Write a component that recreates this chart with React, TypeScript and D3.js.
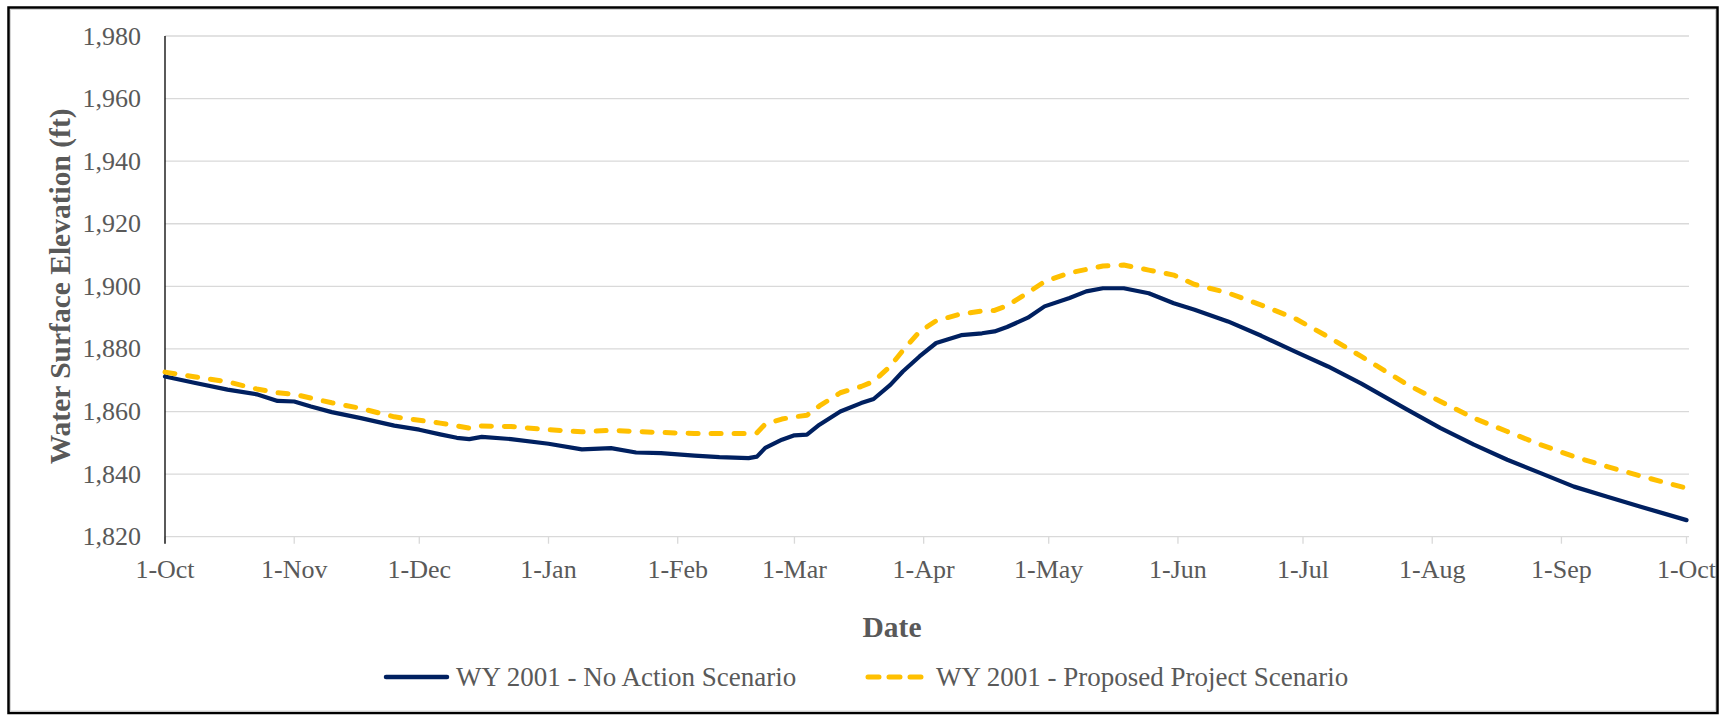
import React from "react";
import * as d3 from "d3";

const dates = [
  "2000-10-01","2000-10-08","2000-10-16","2000-10-23","2000-10-28","2000-11-01","2000-11-05","2000-11-10",
  "2000-11-17","2000-11-25","2000-12-01","2000-12-06","2000-12-10","2000-12-13","2000-12-16","2000-12-23",
  "2001-01-01","2001-01-09","2001-01-16","2001-01-22","2001-01-28","2001-02-05","2001-02-11","2001-02-18",
  "2001-02-20","2001-02-22","2001-02-26","2001-03-01","2001-03-04","2001-03-07","2001-03-12","2001-03-17",
  "2001-03-20","2001-03-24","2001-03-27","2001-03-31","2001-04-04","2001-04-10","2001-04-15","2001-04-18",
  "2001-04-21","2001-04-26","2001-04-30","2001-05-06","2001-05-10","2001-05-14","2001-05-19","2001-05-25",
  "2001-05-31","2001-06-05","2001-06-13","2001-06-21","2001-06-29","2001-07-07","2001-07-15","2001-07-26",
  "2001-08-03","2001-08-11","2001-08-19","2001-08-27","2001-09-04","2001-09-12","2001-09-20","2001-10-01",
];

const noAction = [
  1871.2,1869.2,1867.0,1865.5,1863.4,1863.2,1861.6,1859.8,
  1857.9,1855.5,1854.2,1852.7,1851.6,1851.2,1851.9,1851.2,
  1849.7,1847.9,1848.3,1846.9,1846.7,1845.9,1845.4,1845.1,
  1845.6,1848.4,1851.0,1852.4,1852.6,1855.8,1860.0,1862.7,
  1864.0,1868.5,1872.8,1877.6,1881.9,1884.4,1885.0,1885.6,
  1887.0,1890.0,1893.6,1896.3,1898.4,1899.4,1899.4,1897.8,
  1894.6,1892.5,1888.8,1884.2,1879.2,1874.4,1868.9,1860.6,
  1854.7,1849.4,1844.6,1840.3,1836.0,1832.8,1829.6,1825.3,
];

const proposed = [
  1872.6,1871.1,1869.5,1867.2,1866.0,1865.5,1864.3,1862.8,
  1861.0,1858.3,1857.2,1856.3,1855.4,1854.7,1855.4,1855.2,
  1854.2,1853.5,1854.0,1853.6,1853.3,1853.0,1853.0,1853.0,
  1853.2,1856.0,1857.6,1858.3,1858.8,1861.8,1866.0,1868.0,
  1869.6,1874.5,1879.5,1885.5,1889.0,1891.2,1892.1,1892.3,
  1893.8,1898.0,1901.5,1904.3,1905.4,1906.5,1906.8,1905.2,
  1903.6,1900.6,1897.9,1894.0,1889.8,1883.9,1877.6,1868.6,
  1863.2,1857.9,1853.6,1849.4,1845.6,1842.4,1839.4,1835.5,
];

const yTicks = [1820, 1840, 1860, 1880, 1900, 1920, 1940, 1960, 1980];
const seriesNames = ["WY 2001 - No Action Scenario", "WY 2001 - Proposed Project Scenario"];
const xTitle = "Date";
const yTitle = "Water Surface Elevation (ft)";

const W = 1728;
const H = 715;
const FONT = "'Times New Roman', 'Liberation Serif', serif";
const TEXT = "#595959";
const NAVY = "#002060";
const GOLD = "#FFC000";

export default function App() {
  const parse = d3.timeParse("%Y-%m-%d");
  const parsed = dates.map((d) => parse(d) as Date);
  const start = parsed[0];
  const end = parsed[parsed.length - 1];

  const x = d3.scaleTime().domain([start, end]).range([165, 1686.5]);
  const y = d3.scaleLinear().domain([1820, 1980]).range([536.7, 36]);

  const xTicks = d3.timeMonth.range(start, d3.timeDay.offset(end, 1));
  const fmtMon = d3.timeFormat("%b");
  const fmtY = d3.format(",");

  const line = d3
    .line<number>()
    .x((_, i) => x(parsed[i]))
    .y((v) => y(v));

  const gridRight = 1689;

  return (
    <svg
      width={W}
      height={H}
      style={{ position: "absolute", left: 0, top: 0, background: "#fff" }}
      fontFamily={FONT}
    >
      <rect x={0} y={0} width={W} height={H} fill="#fff" />
      {/* outer frame */}
      <rect x={8.5} y={7.5} width={1709} height={705.5} fill="none" stroke="#000" strokeWidth={2.5} />
      <rect x={10.5} y={9.5} width={1705} height={701.5} fill="none" stroke="#d4d4d4" strokeWidth={1} />

      {/* gridlines */}
      {yTicks.map((t) => (
        <line key={t} x1={165} x2={gridRight} y1={y(t)} y2={y(t)} stroke="#d9d9d9" strokeWidth={1.3} />
      ))}

      {/* x axis ticks */}
      {xTicks.map((d, i) => (
        <g key={i}>
          <line x1={x(d)} x2={x(d)} y1={y(1820)} y2={y(1820) + 7} stroke="#d9d9d9" strokeWidth={1.3} />
          <text x={x(d)} y={578} textAnchor="middle" fontSize={26} fill={TEXT}>
            {`${d.getDate()}-${fmtMon(d)}`}
          </text>
        </g>
      ))}

      {/* y tick labels */}
      {yTicks.map((t) => (
        <text key={t} x={141} y={y(t) + 8.5} textAnchor="end" fontSize={26} fill={TEXT}>
          {fmtY(t)}
        </text>
      ))}

      {/* left axis */}
      <line x1={165} x2={165} y1={y(1980)} y2={y(1820) + 7} stroke="#000" strokeWidth={1.3} />

      {/* series */}
      <path d={line(noAction) || ""} fill="none" stroke={NAVY} strokeWidth={4.2} strokeLinejoin="round" strokeLinecap="round" />
      <path
        d={line(proposed) || ""}
        fill="none"
        stroke={GOLD}
        strokeWidth={5}
        strokeDasharray="10 13"
        strokeLinecap="round"
        strokeLinejoin="round"
      />

      {/* axis titles */}
      <text x={892} y={637} textAnchor="middle" fontSize={29.5} fontWeight="bold" fill={TEXT}>
        {xTitle}
      </text>
      <text
        transform={`translate(70, ${(y(1820) + y(1980)) / 2}) rotate(-90)`}
        textAnchor="middle"
        fontSize={29.5}
        fontWeight="bold"
        fill={TEXT}
      >
        {yTitle}
      </text>

      {/* legend */}
      <line x1={386} x2={447} y1={677} y2={677} stroke={NAVY} strokeWidth={4.5} strokeLinecap="round" />
      <text x={456} y={686} fontSize={27} fill={TEXT}>{seriesNames[0]}</text>
      <line x1={868} x2={927} y1={677} y2={677} stroke={GOLD} strokeWidth={5} strokeDasharray="11 10" strokeLinecap="round" />
      <text x={936} y={686} fontSize={27} fill={TEXT}>{seriesNames[1]}</text>
    </svg>
  );
}
